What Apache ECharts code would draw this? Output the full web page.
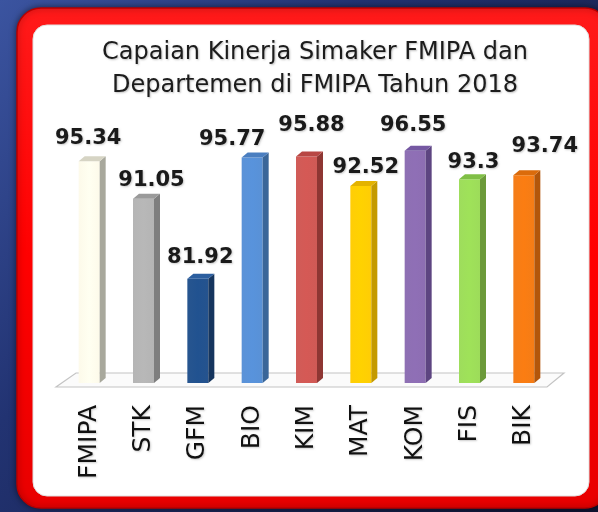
<!DOCTYPE html>
<html>
<head>
<meta charset="utf-8">
<script src="https://cdn.jsdelivr.net/npm/echarts@6/dist/echarts.min.js"></script>
<style>
  html, body { margin: 0; padding: 0; }
  #main { width: 598px; height: 512px; }
</style>
</head>
<body>
<div id="main"></div>
<script>
  // data
  const categories = ['FMIPA', 'STK', 'GFM', 'BIO', 'KIM', 'MAT', 'KOM', 'FIS', 'BIK'];
  const values = [95.34, 91.05, 81.92, 95.77, 95.88, 92.52, 96.55, 93.3, 93.74];
  const yMin = 70;
  const yMax = 100;

  // colours: front face, side face, top cap
  const frontColors = ['#FDFAEA', '#B3B3B3', '#21508C', '#568FD6', '#CF5753', '#FFCC00', '#8B6CB1', '#9BDC57', '#F47A12'];
  const sideColors = ['#A8A89C', '#7E7E7E', '#15355E', '#3A6699', '#8E3633', '#C49A00', '#5D4581', '#6C9A3A', '#B3560A'];
  const topColors = ['#D6D4C4', '#9A9A9A', '#2B5E9F', '#4A7EC0', '#B84744', '#E3B300', '#7558A2', '#80BF46', '#DB6B0B'];
  // value labels were nudged by hand in the original, [dx, dy] from bar top
  const labelShift = [[-1, -23], [8, -18], [2.5, -21.5], [-20, -18], [5, -31], [5, -18], [-2, -25], [4, -17], [21, -29]];

  const myChart = echarts.init(document.getElementById('main'));

  // 3d-ish bar: front rect + side + top cap, label above
  function renderBar(params, api) {
    const i = api.value(0);
    const v = api.value(1);
    const top = api.coord([i, v]);
    const base = api.coord([i, yMin]);
    const hw = 10.5, dx = 6, dy = 5;
    const l = top[0] - hw, r = top[0] + hw;
    const c = frontColors[i];
    return {
      type: 'group',
      children: [
        {
          type: 'rect',
          shape: {x: l, y: top[1], width: hw * 2, height: base[1] - top[1]},
          style: {
            fill: new echarts.graphic.LinearGradient(0, 0, 1, 0, [
              {offset: 0, color: echarts.color.lift(c, 0.03)},
              {offset: 0.5, color: echarts.color.lift(c, -0.03)},
              {offset: 1, color: echarts.color.lift(c, 0.02)}
            ])
          }
        },
        {
          type: 'polygon',
          shape: {points: [[r, top[1]], [r + dx, top[1] - dy], [r + dx, base[1] - dy], [r, base[1]]]},
          style: {fill: sideColors[i]}
        },
        {
          type: 'polygon',
          shape: {points: [[l, top[1]], [l + dx, top[1] - dy], [r + dx, top[1] - dy], [r, top[1]]]},
          style: {fill: topColors[i]}
        },
        {
          type: 'text',
          x: top[0] + labelShift[i][0],
          y: top[1] + labelShift[i][1],
          style: {
            text: String(values[i]),
            font: 'bold 21px "DejaVu Sans"',
            fill: '#1a1a1a',
            align: 'center',
            verticalAlign: 'middle',
            textShadowColor: 'rgba(0,0,0,0.2)',
            textShadowBlur: 2,
            textShadowOffsetX: 1,
            textShadowOffsetY: 1
          }
        }
      ]
    };
  }

  // floor under the bars
  function renderFloor(params, api) {
    const first = api.coord([0, yMin]);
    const last = api.coord([categories.length - 1, yMin]);
    const band = api.size([1, 0])[0];
    const x0 = first[0] - band / 2, x1 = last[0] + band / 2, y = first[1];
    return {
      type: 'polygon',
      shape: {points: [[x0 - 6, y + 4], [x1 - 4, y + 4], [x1 + 13, y - 10], [x0 + 14, y - 10]]},
      style: {fill: '#fbfbfb', stroke: '#c4c4c4', lineWidth: 1.2}
    };
  }

  const option = {
    backgroundColor: new echarts.graphic.LinearGradient(0, 0, 1, 1, [
      {offset: 0, color: '#3b54a0'},
      {offset: 0.35, color: '#223372'},
      {offset: 1, color: '#0f1432'}
    ]),
    title: {
      text: 'Capaian Kinerja Simaker FMIPA dan\nDepartemen di FMIPA Tahun 2018',
      left: 310,
      top: 31,
      textAlign: 'center',
      textStyle: {
        fontFamily: 'DejaVu Sans',
        fontSize: 24,
        fontWeight: 'normal',
        color: '#1c1c1c',
        lineHeight: 33,
        textShadowColor: 'rgba(0,0,0,0.25)',
        textShadowBlur: 2,
        textShadowOffsetX: 1,
        textShadowOffsetY: 1
      }
    },
    graphic: [
      {
        type: 'rect',
        z: -10,
        shape: {x: 17, y: 8, width: 592, height: 500, r: 24},
        style: {
          fill: new echarts.graphic.LinearGradient(0, 0, 0, 1, [
            {offset: 0, color: '#ff1a1a'},
            {offset: 0.5, color: '#ff0000'},
            {offset: 1, color: '#e80000'}
          ]),
          stroke: '#b80000',
          lineWidth: 1.5,
          shadowBlur: 6,
          shadowColor: 'rgba(0,0,0,0.5)'
        }
      },
      {
        type: 'rect',
        z: -9,
        shape: {x: 33, y: 25, width: 556, height: 471, r: 14},
        style: {fill: '#ffffff', stroke: '#e0e0e0', lineWidth: 1}
      }
    ],
    grid: {
      left: 62,
      right: 47,
      top: 120.5,
      bottom: 129
    },
    xAxis: {
      type: 'category',
      data: categories,
      axisLine: {show: false},
      axisTick: {show: false},
      axisLabel: {
        rotate: 90,
        margin: 22,
        fontFamily: 'DejaVu Sans',
        fontSize: 25,
        color: '#111',
        padding: [0, 0, 16, 0],
        textShadowColor: 'rgba(0,0,0,0.2)',
        textShadowBlur: 2,
        textShadowOffsetX: 1,
        textShadowOffsetY: 1
      }
    },
    yAxis: {
      type: 'value',
      min: yMin,
      max: yMax,
      show: false
    },
    series: [
      {
        type: 'custom',
        z: 1,
        renderItem: renderFloor,
        data: [[0, yMin]],
        silent: true
      },
      {
        type: 'custom',
        z: 2,
        renderItem: renderBar,
        encode: {x: 0, y: 1},
        data: values.map(function (v, i) { return [i, v]; })
      }
    ]
  };
  myChart.setOption(option);
</script>
</body>
</html>
